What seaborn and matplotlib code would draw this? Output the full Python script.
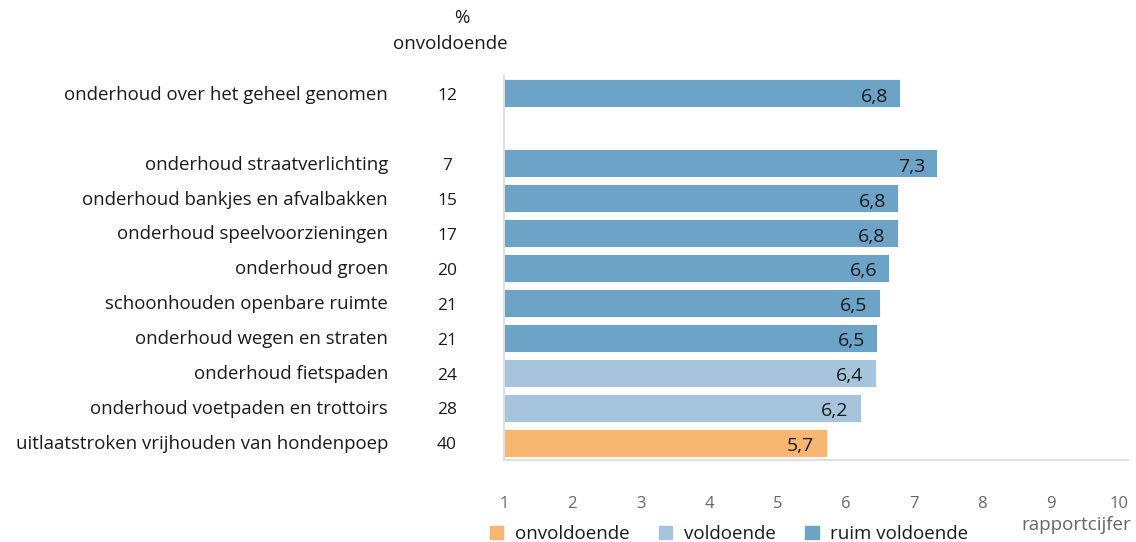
import matplotlib

matplotlib.use("Agg")
import matplotlib.pyplot as plt
import matplotlib.transforms as mtransforms
import pandas as pd
import seaborn as sns

# --- data --------------------------------------------------------------------
items = [
    "onderhoud over het geheel genomen",
    "onderhoud straatverlichting",
    "onderhoud bankjes en afvalbakken",
    "onderhoud speelvoorzieningen",
    "onderhoud groen",
    "schoonhouden openbare ruimte",
    "onderhoud wegen en straten",
    "onderhoud fietspaden",
    "onderhoud voetpaden en trottoirs",
    "uitlaatstroken vrijhouden van hondenpoep",
]
scores = [6.80, 7.34, 6.77, 6.76, 6.64, 6.50, 6.46, 6.44, 6.22, 5.72]
pct_onvoldoende = [12, 7, 15, 17, 20, 21, 21, 24, 28, 40]
oordeel = [
    "ruim voldoende", "ruim voldoende", "ruim voldoende", "ruim voldoende",
    "ruim voldoende", "ruim voldoende", "ruim voldoende",
    "voldoende", "voldoende", "onvoldoende",
]
oordeel_order = ["onvoldoende", "voldoende", "ruim voldoende"]
palette = {"onvoldoende": "#f7b773", "voldoende": "#a6c5dc", "ruim voldoende": "#6ea3c8"}
x_ticks = list(range(1, 11))

# blank slot between the overall score and the separate items
order = [items[0], " "] + items[1:]

df = pd.DataFrame({"item": items, "score": scores, "oordeel": oordeel})

sns.set_style("white")
plt.rcParams["font.family"] = ["Open Sans", "DejaVu Sans"]

fig = plt.figure(figsize=(11.36, 5.42), dpi=100)
ax = fig.add_axes([504 / 1136, 1 - 460 / 542, (1128 - 504) / 1136, 384 / 542])

sns.barplot(
    data=df, x="score", y="item", hue="oordeel", order=order,
    hue_order=oordeel_order, palette=palette, dodge=False, width=0.8,
    saturation=1, legend=False, ax=ax,
)
# bars start at 1 (lowest grade)
for p in ax.patches:
    w = p.get_width()
    if w > 0:
        p.set_x(1)
        p.set_width(w - 1)
        p.set_edgecolor("white")
        p.set_linewidth(0.6)

ax.set_xlim(1, 10.13)
ax.set_ylim(len(order) - 0.5, -0.5)
ax.set_xticks(x_ticks)
ax.set_xticklabels([str(t) for t in x_ticks], color="#666666", fontsize=12)
ax.tick_params(axis="x", length=0, pad=26)
ax.set_yticks([])
ax.set_xlabel("")
ax.set_ylabel("")
for s in ["top", "right"]:
    ax.spines[s].set_visible(False)
for s in ["left", "bottom"]:
    ax.spines[s].set_color("#d9d9d9")
    ax.spines[s].set_linewidth(1.2)

trans = mtransforms.blended_transform_factory(fig.transFigure, ax.transData)
for item, sc, pct in zip(items, scores, pct_onvoldoende):
    y = order.index(item)
    ax.text(388 / 1136, y + 0.04, item, transform=trans, ha="right", va="center",
            fontsize=13.4, color="#1a1a1a")
    ax.text(447 / 1136, y + 0.08, str(pct), transform=trans, ha="center",
            va="center", fontsize=12.5, color="#1a1a1a")
    ax.text(sc - 0.18, y + 0.1, f"{sc:.1f}".replace(".", ","), ha="right",
            va="center", fontsize=14, color="#1a1a1a")

fig.text(462 / 1136, 1 - 18 / 542, "%", ha="center", va="center",
         fontsize=13.5, color="#1a1a1a")
fig.text(450 / 1136, 1 - 44 / 542, "onvoldoende", ha="center", va="center",
         fontsize=13.5, color="#1a1a1a")
fig.text(1131 / 1136, 1 - 525 / 542, "rapportcijfer", ha="right", va="center",
         fontsize=13.5, color="#666666")

handles = [plt.Rectangle((0, 0), 1, 1, color=palette[o]) for o in oordeel_order]
fig.legend(handles, oordeel_order, loc="center", bbox_to_anchor=(729 / 1136, 1 - 534 / 542),
           ncol=3, frameon=False, handlelength=0.7, handleheight=0.7,
           handletextpad=0.6, columnspacing=1.6, fontsize=13.5,
           labelcolor="#1a1a1a")

fig.savefig("out.png", dpi=100)
plt.close(fig)
